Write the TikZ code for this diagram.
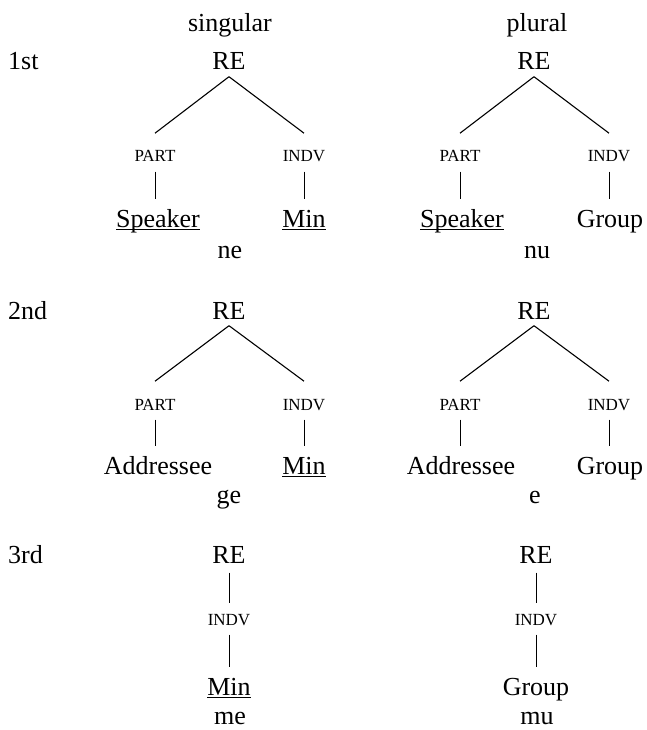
\documentclass[tikz,border=0pt]{standalone}
\usepackage{fontspec}
\setmainfont{Liberation Serif}
\newcommand{\myul}[1]{\setbox0\hbox{#1}\rlap{\vrule width\wd0 height -1.8pt depth 3.1pt}\box0}
\begin{document}
\begin{tikzpicture}[x=1pt,y=-1pt,
  big/.style={font=\fontsize{26}{30}\selectfont, inner sep=0pt, anchor=base, text height=17pt, text depth=0pt},
  small/.style={font=\fontsize{17}{20}\selectfont, inner sep=0pt, anchor=base, text height=11.1pt, text depth=0pt},
  rowlab/.style={big, anchor=base west},
  branch/.style={line width=1.1pt},
  vbranch/.style={line width=1pt, shorten <=9.5pt, shorten >=10.5pt}]
\useasboundingbox (0,0) rectangle (646,730);
% headers
\node[big] (hs) at (230,32) {singular};
\node[big] (hp) at (537,32) {plural};
% row labels
\node[rowlab] (l1) at (8,70) {1st};
\node[rowlab] (l2) at (8,319) {2nd};
\node[rowlab] (l3) at (8,563) {3rd};
% row 1 singular
\node[big] (r1) at (229,70) {RE};
\node[small] (p1) at (155,162) {PART};
\node[small] (i1) at (304,162) {INDV};
\node[big] (s1) at (158,227) {\myul{Speaker}};
\node[big] (m1) at (304,227) {\myul{Min}};
\node[big] (w1) at (230,258) {ne};
% row 1 plural
\node[big] (r2) at (534,70) {RE};
\node[small] (p2) at (460,162) {PART};
\node[small] (i2) at (609,162) {INDV};
\node[big] (s2) at (462,227) {\myul{Speaker}};
\node[big] (g2) at (610,227) {Group};
\node[big] (w2) at (537,258) {nu};
% row 2 singular
\node[big] (r3) at (229,319) {RE};
\node[small] (p3) at (155,410) {PART};
\node[small] (i3) at (304,410) {INDV};
\node[big] (a3) at (158,474) {Addressee};
\node[big] (m3) at (304,474) {\myul{Min}};
\node[big] (w3) at (229,503) {ge};
% row 2 plural
\node[big] (r4) at (534,319) {RE};
\node[small] (p4) at (460,410) {PART};
\node[small] (i4) at (609,410) {INDV};
\node[big] (a4) at (461,474) {Addressee};
\node[big] (g4) at (610,474) {Group};
\node[big] (w4) at (535,503) {e};
% row 3 singular
\node[big] (r5) at (229,563) {RE};
\node[small] (i5) at (229,625) {INDV};
\node[big] (m5) at (229,695) {\myul{Min}};
\node[big] (w5) at (230,724) {me};
% row 3 plural
\node[big] (r6) at (536,563) {RE};
\node[small] (i6) at (536,625) {INDV};
\node[big] (g6) at (536,695) {Group};
\node[big] (w6) at (537,724) {mu};
% connectors
\foreach \r/\p/\i in {r1/p1/i1, r2/p2/i2, r3/p3/i3, r4/p4/i4}{
  \draw[branch] ([yshift=-6.5pt]\r.south) -- ([yshift=17.5pt]\p.north);
  \draw[branch] ([yshift=-6.5pt]\r.south) -- ([yshift=17.5pt]\i.north);
}
\foreach \p/\l in {p1/s1, i1/m1, p2/s2, i2/g2, p3/a3, i3/m3, p4/a4, i4/g4}{
  \draw[vbranch] (\p.south) -- (\p.south |- \l.north);
}
\draw[vbranch] (r5.south) -- (i5.north);
\draw[vbranch] (i5.south) -- (i5.south |- m5.north);
\draw[vbranch] (r6.south) -- (i6.north);
\draw[vbranch] (i6.south) -- (i6.south |- g6.north);
\end{tikzpicture}
\end{document}
